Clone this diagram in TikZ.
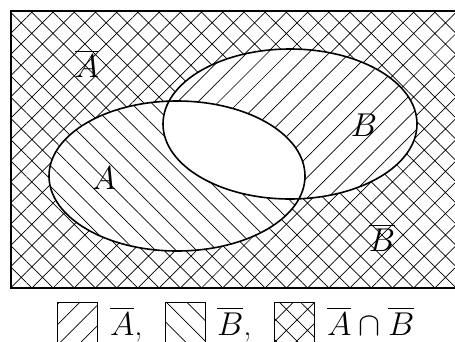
\documentclass[tikz,border=0pt]{standalone}
\usepackage{fix-cm}
\usepackage{amsmath}
\usetikzlibrary{patterns.meta,positioning}
\tikzset{
  setNE/.style={pattern={Lines[angle=45,distance=14.5pt,line width=0.7pt]}},
  setNW/.style={pattern={Lines[angle=-45,distance=14.5pt,line width=0.7pt]}},
  setX/.style={pattern={Hatch[angle=45,distance=15pt,line width=0.7pt]}},
  setrim/.style={line width=1.6pt},
  setlabel/.style={inner sep=0pt,font=\fontsize{33}{40}\selectfont},
  keybox/.style={draw,line width=0.9pt,minimum size=40pt,inner sep=0pt},
  keytext/.style={inner sep=0pt,anchor=base west,font=\fontsize{33}{40}\selectfont},
}
\begin{document}
\begin{tikzpicture}[x=1pt,y=-1pt]
\useasboundingbox (0,0) rectangle (455,341);
\def\setA{(177,176) ellipse [x radius=128,y radius=75]}
\def\setB{(290,124) ellipse [x radius=127,y radius=75]}
% universe
\fill[setX] (11,11) rectangle (464,288);
% A and B without the other
\fill[white] \setA;
\fill[setNW] \setA;
\fill[white] \setB;
\fill[setNE] \setB;
\begin{scope}
  \clip \setA;
  \fill[white] \setB;
\end{scope}
\draw[setrim] \setA;
\draw[setrim] \setB;
\draw[line width=1.2pt] (11,11) rectangle (464,288);
% labels
\node[setlabel] (nA) at (87,64) {$\overline{A}$};
\node[setlabel] (a) at (104,178) {$A$};
\node[setlabel] (b) at (364,125) {$B$};
\node[setlabel] (nB) at (382,238) {$\overline{B}$};
% key
\node[keybox,setNE] (k1) at (77.5,322) {};
\node[keybox,setNW] (k2) at (185,322) {};
\node[keybox,setX] (k3) at (294,322) {};
\node[keytext] (t1) at (110,335) {$\overline{A}$,};
\node[keytext] (t2) at (217,335) {$\overline{B}$,};
\node[keytext] (t3) at (327,335) {$\overline{A}\cap\overline{B}$};
\end{tikzpicture}
\end{document}
